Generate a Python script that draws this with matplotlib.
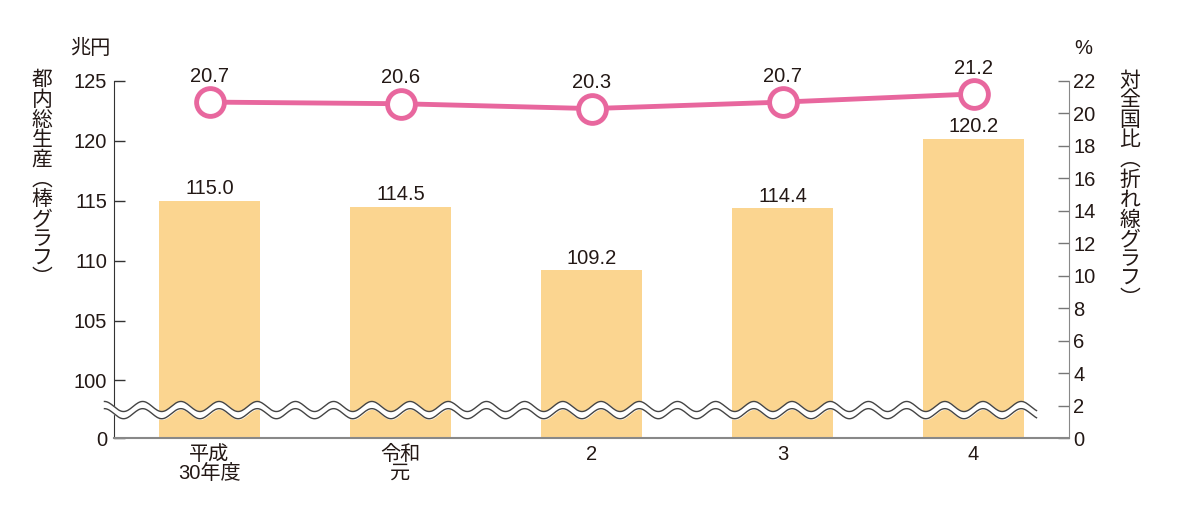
import numpy as np
import matplotlib.pyplot as plt

plt.rcParams['font.family'] = ['Liberation Sans', 'Noto Sans CJK JP']

# data
years = ["平成\n30年度", "令和\n元", "2", "3", "4"]
gdp = [115.0, 114.5, 109.2, 114.4, 120.2]      # 兆円
share = [20.7, 20.6, 20.3, 20.7, 21.2]          # %
left_ticks = [0, 100, 105, 110, 115, 120, 125]
right_ticks = list(range(0, 23, 2))

BAR = "#fbd590"
LINE = "#e8679e"
TXT = "#231815"
FS = 14.5

# broken left scale: 0 at bottom, 100..125 above the break
GAP = 4.8


def to_axis(v):
    v = np.asarray(v, dtype=float)
    return np.where(v >= 100, v - 100 + GAP, v * GAP / 100)


fig = plt.figure(figsize=(11.77, 5.15), dpi=100)
ax = fig.add_axes([114 / 1177, 1 - 438 / 515, (1069 - 114) / 1177, (438 - 81) / 515])
ax2 = ax.twinx()

x = np.arange(len(years))
ax.bar(x, to_axis(gdp), width=0.53, color=BAR, zorder=2)
for xi, v in zip(x, gdp):
    ax.text(xi, to_axis(v) + 0.2, f"{v:.1f}", ha="center", va="bottom",
            fontsize=FS, color=TXT)

ax.set_xlim(-0.5, 4.5)
ax.set_ylim(0, to_axis(125))
ax.set_yticks(to_axis(left_ticks))
ax.set_yticklabels([str(t) for t in left_ticks])
ax.set_xticks(x)
ax.set_xticklabels(years, fontsize=FS, color=TXT, linespacing=1.0)
ax.tick_params(axis="x", length=0, pad=5)
ax.tick_params(axis="y", direction="in", length=8, width=1, color="#333333",
               labelsize=FS, labelcolor=TXT, pad=5)

# wavy break line
wx = np.linspace(-0.55, 4.33, 800)
wy = 2.33 + 0.42 * np.sin(2 * np.pi * wx / 0.2)
ax.fill_between(wx, wy - 0.3, wy + 0.3, color="white", zorder=5, clip_on=False)
ax.plot(wx, wy - 0.3, color="#444444", lw=1.0, zorder=6, clip_on=False)
ax.plot(wx, wy + 0.3, color="#444444", lw=1.0, zorder=6, clip_on=False)

# line (right axis)
ax2.plot(x, share, color=LINE, lw=3.5, marker="o", markersize=20,
         markerfacecolor="white", markeredgecolor=LINE, markeredgewidth=3.5,
         zorder=3, clip_on=False)
for xi, v in zip(x, share):
    ax2.text(xi, v + 1.0, f"{v:.1f}", ha="center", va="bottom",
             fontsize=FS, color=TXT)
ax2.set_ylim(0, 22)
ax2.set_yticks(right_ticks)
ax2.tick_params(axis="y", direction="in", length=8, width=1, color="#777777",
                labelsize=FS, labelcolor=TXT, pad=3)

for a in (ax, ax2):
    a.spines["top"].set_visible(False)
ax.spines["left"].set_color("#333333")
ax.spines["bottom"].set_color("#888888")
ax.spines["bottom"].set_linewidth(1.5)
ax.spines["right"].set_visible(False)
ax2.spines["left"].set_visible(False)
ax2.spines["bottom"].set_visible(False)
ax2.spines["right"].set_color("#888888")

ax.set_zorder(ax2.get_zorder() + 1)
ax.patch.set_visible(False)

# units and vertical axis titles
fig.text(90 / 1177, 1 - 48 / 515, "兆円", fontsize=FS, color=TXT,
         ha="center", va="center")
fig.text(1083 / 1177, 1 - 48 / 515, "%", fontsize=FS, color=TXT,
         ha="center", va="center")
fig.text(42 / 1177, 1 - 71 / 515, "\n".join("都内総生産︵棒グラフ︶"),
         fontsize=15, color=TXT, ha="center", va="top", linespacing=1.05)
fig.text(1130 / 1177, 1 - 71 / 515, "\n".join("対全国比︵折れ線グラフ︶"),
         fontsize=15, color=TXT, ha="center", va="top", linespacing=1.05)

fig.savefig("out.png", dpi=100)
